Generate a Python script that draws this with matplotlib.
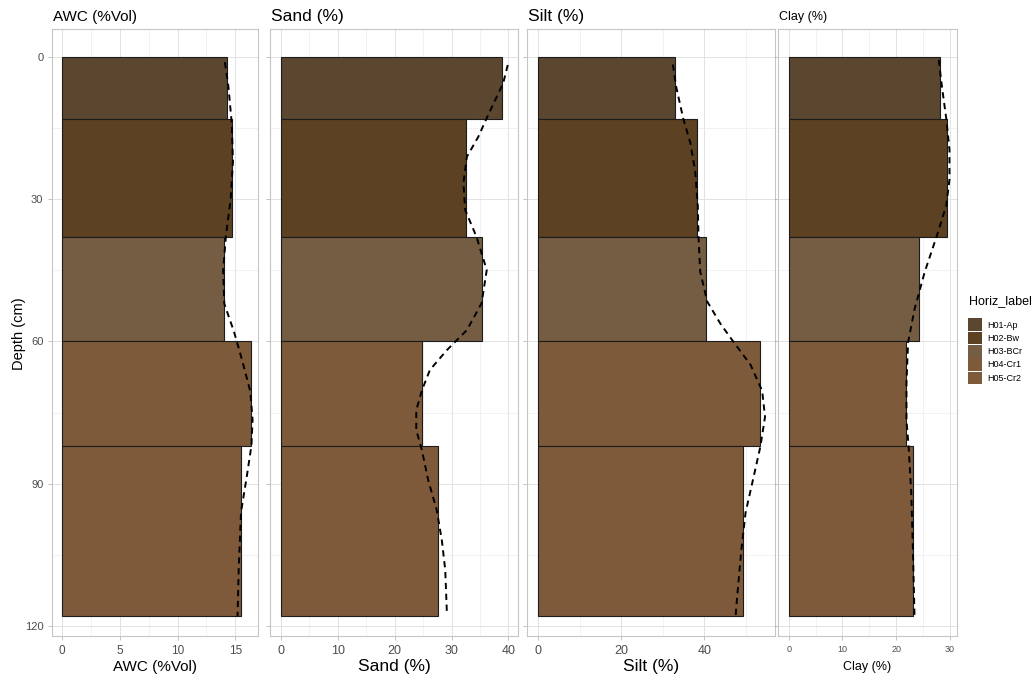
import matplotlib
matplotlib.use("Agg")
import matplotlib.pyplot as plt
from matplotlib.patches import Rectangle
from matplotlib.ticker import FixedLocator

# ---------------- data ----------------
horizons = ["H01-Ap", "H02-Bw", "H03-BCr", "H04-Cr1", "H05-Cr2"]
horizon_colors = ["#5b4630", "#5c4122", "#745d43", "#7d5a3a", "#7e5a3b"]
top_depth = [0, 13, 38, 60, 82]
bottom_depth = [13, 38, 60, 82, 118]

awc = [14.3, 14.7, 14.05, 16.4, 15.5]
sand = [38.8, 32.6, 35.3, 24.8, 27.6]
silt = [33.0, 38.1, 40.5, 53.3, 49.3]
clay = [28.2, 29.5, 24.3, 21.9, 23.1]

# smoothed depth trends
awc_trend_depth = [1, 6, 14, 22, 30, 37.5, 45, 52, 58, 64, 70.5, 76.5, 82, 88.5, 96, 108, 118]
awc_trend = [14.1, 14.4, 14.7, 14.8, 14.6, 14.2, 13.95, 14.05, 14.9, 15.6, 16.3, 16.5, 16.4,
             16.0, 15.5, 15.3, 15.2]

sand_trend_depth = [1.6, 5.4, 12.8, 16.8, 21, 26.5, 32.2, 37.9, 44.9, 51.9, 57.6, 61.8, 66,
                    70.3, 74.5, 78.7, 83, 89.3, 95.6, 102, 108.3, 117.8]
sand_trend = [39.9, 39.1, 36.2, 34.7, 32.7, 32.1, 32.4, 34.4, 36.2, 35.3, 32.7, 29.2, 26.2,
              24.8, 23.8, 23.8, 24.8, 25.9, 27.4, 28.3, 28.9, 29.2]

silt_trend_depth = [1.5, 6.2, 12.9, 18, 24.2, 31.3, 38.3, 45.3, 51.6, 56.3, 60.2, 64.9, 70.4,
                    75.9, 82.1, 88.4, 96.2, 104, 111.8, 118]
silt_trend = [32.4, 33.2, 34.9, 36.6, 37.8, 38.4, 38.6, 39.0, 40.7, 43.9, 47.1, 51.1, 53.9,
              54.6, 53.5, 51.9, 49.9, 48.9, 48.1, 47.5]

clay_trend_depth = [0.5, 6.2, 12.9, 19.5, 25.8, 31.3, 37.5, 45.3, 53.2, 60.2, 68.8, 76.6, 82.1,
                    92.2, 104, 118]
clay_trend = [27.9, 28.5, 29.3, 29.9, 29.9, 29.3, 27.6, 25.3, 23.4, 22.2, 21.9, 21.9, 22.3,
              22.8, 23.1, 23.4]

depth_ticks = [0, 30, 60, 90, 120]

# ---------------- figure ----------------
W, H = 1034, 677
fig = plt.figure(figsize=(W / 100, H / 100), dpi=100)
plt.rcParams["font.family"] = ["Liberation Sans", "DejaVu Sans"]


def fx(px):
    return px / W


def fy(py):
    return 1 - py / H


panels = [
    dict(name="AWC (%Vol)", values=awc, tdepth=awc_trend_depth, trend=awc_trend,
         px=(52, 258), xlim=(-0.87, 16.97), major=[0, 5, 10, 15], minor=[2.5, 7.5, 12.5],
         title_size=11, tick_size=8.5, first=True),
    dict(name="Sand (%)", values=sand, tdepth=sand_trend_depth, trend=sand_trend,
         px=(270, 518), xlim=(-1.94, 41.7), major=[0, 10, 20, 30, 40], minor=[5, 15, 25, 35],
         title_size=12.5, tick_size=9, first=False),
    dict(name="Silt (%)", values=silt, tdepth=silt_trend_depth, trend=silt_trend,
         px=(527, 775), xlim=(-2.72, 57.0), major=[0, 20, 40], minor=[10, 30, 50],
         title_size=12.5, tick_size=9, first=False),
    dict(name="Clay (%)", values=clay, tdepth=clay_trend_depth, trend=clay_trend,
         px=(778, 957), xlim=(-1.99, 31.3), major=[0, 10, 20, 30], minor=[5, 15, 25],
         title_size=9, tick_size=6.5, first=False),
]

panel_top, panel_bottom = 29, 636
thickness = [b - t for t, b in zip(top_depth, bottom_depth)]

for p in panels:
    x0, x1 = p["px"]
    ax = fig.add_axes([fx(x0), fy(panel_bottom), (x1 - x0) / W, (panel_bottom - panel_top) / H])
    ax.set_axisbelow(True)
    ax.barh(top_depth, p["values"], height=thickness, left=0, align="edge",
            color=horizon_colors, edgecolor="#1c1c1c", linewidth=0.8, zorder=2)
    ax.plot(p["trend"], p["tdepth"], color="black", linewidth=1.4,
            linestyle=(0, (3.2, 2.4)), zorder=3)

    ax.set_xlim(*p["xlim"])
    ax.set_ylim(122.2, -6.0)

    ax.xaxis.set_major_locator(FixedLocator(p["major"]))
    ax.xaxis.set_minor_locator(FixedLocator(p["minor"]))
    ax.yaxis.set_major_locator(FixedLocator(depth_ticks))
    ax.yaxis.set_minor_locator(FixedLocator([15, 45, 75, 105]))
    ax.grid(which="major", color="#e2e2e2", linewidth=0.7)
    ax.grid(which="minor", color="#ededed", linewidth=0.5)

    ax.tick_params(which="major", length=2.8, width=0.6, color="#b8b8b8",
                   labelcolor="#4d4d4d", labelsize=p["tick_size"], pad=3.5)
    ax.tick_params(which="minor", length=0)
    if p["first"]:
        ax.tick_params(axis="y", labelsize=8)
    else:
        ax.tick_params(axis="y", labelleft=False)

    for s in ax.spines.values():
        s.set_color("#c6c6c6")
        s.set_linewidth(0.8)

    # panel heading and axis title
    fig.text(fx(x0 + 1), fy(17), p["name"], fontsize=p["title_size"],
             ha="left", va="center", color="black")
    fig.text(fx((x0 + x1) / 2), fy(667), p["name"], fontsize=p["title_size"],
             ha="center", va="center", color="black")

fig.text(fx(19), fy(334), "Depth (cm)", rotation=90, fontsize=10.5,
         ha="center", va="center", color="black")

# legend
fig.text(fx(969), fy(301), "Horiz_label", fontsize=9, ha="left", va="center")
key_top, key_h = 318.5, 13.25
for i, (lab, col) in enumerate(zip(horizons, horizon_colors)):
    y0 = key_top + i * key_h
    fig.add_artist(Rectangle((fx(968), fy(y0 + key_h - 0.6)), 14 / W, (key_h - 0.6) / H,
                             transform=fig.transFigure, facecolor=col, edgecolor="none"))
    fig.text(fx(987), fy(y0 + key_h / 2), lab, fontsize=6.5, ha="left", va="center")

fig.savefig("out.png", dpi=100)
